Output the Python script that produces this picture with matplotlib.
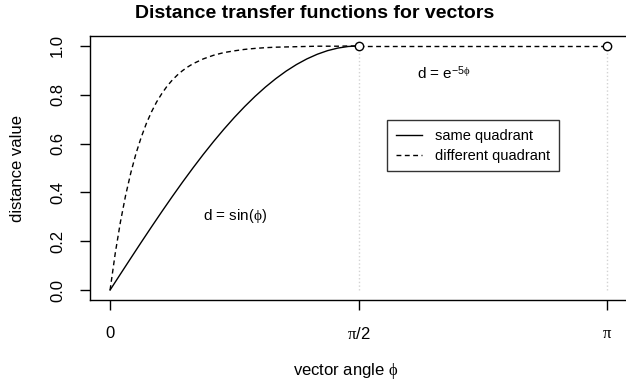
import numpy as np
import matplotlib
matplotlib.use("Agg")
import matplotlib.pyplot as plt

plt.rcParams["font.family"] = ["Liberation Sans", "DejaVu Sans"]
plt.rcParams["mathtext.fontset"] = "custom"
plt.rcParams["mathtext.rm"] = "Liberation Sans"
plt.rcParams["mathtext.it"] = "Liberation Serif"

# curve samples (angle in radians, distance value)
phi_same = [0.0, 0.0654, 0.1309, 0.1963, 0.2618, 0.3272, 0.3927, 0.4581,
            0.5236, 0.5890, 0.6545, 0.7199, 0.7854, 0.8508, 0.9163, 0.9817,
            1.0472, 1.1126, 1.1781, 1.2435, 1.3090, 1.3744, 1.4399, 1.5053,
            1.5708]
d_same = [0.0, 0.0654, 0.1305, 0.1951, 0.2588, 0.3214, 0.3827, 0.4423,
          0.5000, 0.5556, 0.6088, 0.6593, 0.7071, 0.7518, 0.7934, 0.8315,
          0.8660, 0.8969, 0.9239, 0.9469, 0.9659, 0.9808, 0.9914, 0.9979,
          1.0]

phi_diff = [0.0, 0.0327, 0.0654, 0.0982, 0.1309, 0.1636, 0.1963, 0.2290,
            0.2618, 0.2945, 0.3272, 0.3600, 0.3927, 0.4254, 0.4581, 0.4909,
            0.5236, 0.5890, 0.6545, 0.7199, 0.7854, 0.8508, 0.9163, 0.9817,
            1.0472, 1.1126, 1.1781, 1.2435, 1.3090, 1.3744, 1.4399, 1.5053,
            1.5708]
d_diff = [0.0, 0.151, 0.279, 0.388, 0.480, 0.559, 0.625, 0.682,
          0.730, 0.771, 0.805, 0.835, 0.860, 0.881, 0.899, 0.914,
          0.927, 0.947, 0.962, 0.973, 0.980, 0.986, 0.990, 0.993,
          0.995, 0.996, 0.997, 0.998, 0.999, 0.999, 0.999, 1.0,
          1.0]

# flat part beyond pi/2
phi_flat = [np.pi / 2, np.pi]
d_flat = [1.0, 1.0]

x_ticks = [0, np.pi / 2, np.pi]
x_labels = ["0", r"$\pi$/2", r"$\pi$"]
y_ticks = [0.0, 0.2, 0.4, 0.6, 0.8, 1.0]
y_labels = ["0.0", "0.2", "0.4", "0.6", "0.8", "1.0"]

W, H = 626, 391
fig = plt.figure(figsize=(W / 100, H / 100), dpi=100)
ax = fig.add_axes([90.2 / W, (H - 299.8) / H, 536.8 / W, 263.6 / H])

dash = (0, (3.5, 2.5))
ax.plot(phi_same, d_same, color="black", lw=1, label="same quadrant")
ax.plot(phi_diff, d_diff, color="black", lw=1, linestyle=dash,
        label="different quadrant")
ax.plot(phi_flat, d_flat, color="black", lw=1, linestyle=dash)
for xv in phi_flat:
    ax.plot([xv, xv], [0, 1], color="lightgray", lw=1, linestyle=":")
ax.plot(phi_flat, d_flat, linestyle="none", marker="o", markersize=6,
        markerfacecolor="white", markeredgecolor="black", mew=1)

ax.text(0.79, 0.305, r"d = sin$\left(\phi\right)$", fontsize=11,
        ha="center", va="center")
ax.text(2.11, 0.89, r"d = e$^{-5\phi}$", fontsize=11, ha="center",
        va="center")

pad = 0.04 * np.pi
ax.set_xlim(-pad, np.pi + pad)
ax.set_ylim(-0.04, 1.04)
ax.set_xticks(x_ticks, x_labels)
ax.set_yticks(y_ticks, y_labels)
ax.tick_params(length=7, width=1, labelsize=12)
ax.tick_params(axis="x", pad=12)
ax.tick_params(axis="y", pad=11)
for lab in ax.get_yticklabels():
    lab.set_rotation(90)
    lab.set_va("center")
for s in ax.spines.values():
    s.set_linewidth(1)

ax.set_xlabel(r"vector angle $\phi$", fontsize=12, labelpad=16)
ax.xaxis.set_label_coords((346 - 90.2) / 536.8, -(371 - 299.8) / 263.6)
ax.xaxis.label.set_va("center")
ax.set_ylabel("distance value", fontsize=12)
ax.yaxis.set_label_coords(-(90.2 - 18) / 536.8, 0.5)
ax.yaxis.label.set_va("center")
fig.suptitle("Distance transfer functions for vectors", fontsize=14,
             fontweight="bold", y=1 - 13 / H, va="center", x=315 / W)

leg = ax.legend(loc="upper left", bbox_to_anchor=(0.553, 0.682),
                fontsize=10.5, frameon=True, fancybox=False, handlelength=1.8,
                handletextpad=0.9, labelspacing=0.4, borderpad=0.6,
                borderaxespad=0)
leg.get_frame().set_edgecolor("black")
leg.get_frame().set_linewidth(1)

fig.savefig("out.png", dpi=100)
